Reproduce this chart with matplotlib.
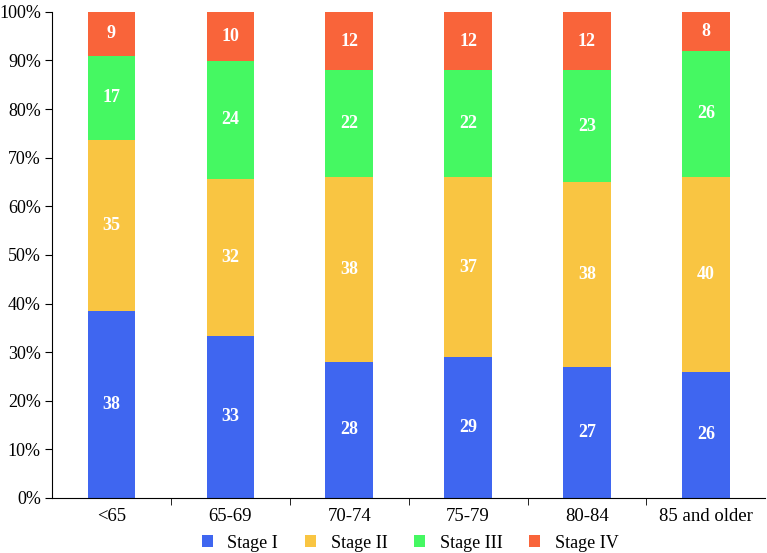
import matplotlib
matplotlib.use("Agg")
import matplotlib.pyplot as plt
import numpy as np
from matplotlib.ticker import FixedLocator, PercentFormatter, NullFormatter

plt.rcParams['font.family'] = ['Liberation Serif', 'DejaVu Serif']

categories = ["<65", "65-69", "70-74", "75-79", "80-84", "85 and older"]
stage_names = ["Stage I", "Stage II", "Stage III", "Stage IV"]
stage1 = [38, 33, 28, 29, 27, 26]
stage2 = [35, 32, 38, 37, 38, 40]
stage3 = [17, 24, 22, 22, 23, 26]
stage4 = [9, 10, 12, 12, 12, 8]
colors = ["#3F66F0", "#F9C542", "#45F862", "#F9643A"]

series = np.array([stage1, stage2, stage3, stage4], dtype=float)
totals = series.sum(axis=0)
shares = series / totals * 100

fig = plt.figure(figsize=(7.67, 5.53), dpi=100)
ax = fig.add_axes([0.0678, 0.0995, 0.930, 0.879])
x = np.arange(len(categories))
bottom = np.zeros(len(categories))
for i, name in enumerate(stage_names):
    bars = ax.bar(x, shares[i], 0.4, bottom=bottom, color=colors[i], label=name, zorder=2)
    for j, b in enumerate(bars):
        ax.text(b.get_x() + b.get_width() / 2, bottom[j] + shares[i][j] / 2,
                f"{int(series[i][j])}", ha="center", va="center", color="white",
                fontsize=13, fontweight="bold")
    bottom += shares[i]

ax.set_xlim(-0.5, len(categories) - 0.5)
ax.set_ylim(0, 100)
ax.yaxis.set_major_locator(FixedLocator(np.arange(0, 101, 10)))
ax.yaxis.set_major_formatter(PercentFormatter(decimals=0))
ax.set_xticks(x)
ax.set_xticklabels(categories)
ax.tick_params(axis="x", which="major", length=0, labelsize=13.5, pad=7)
ax.xaxis.set_minor_locator(FixedLocator(np.arange(0.5, len(categories) - 0.5, 1)))
ax.xaxis.set_minor_formatter(NullFormatter())
ax.tick_params(axis="x", which="minor", length=5, direction="out")
ax.tick_params(axis="y", labelsize=13, length=5, direction="out", pad=3)
for s in ["top", "right"]:
    ax.spines[s].set_visible(False)

fig.legend(*ax.get_legend_handles_labels(), loc="center", bbox_to_anchor=(0.535, 0.018),
           ncol=4, frameon=False, fontsize=13, handlelength=0.6, handleheight=0.6,
           columnspacing=1.5, handletextpad=0.8, borderpad=0)

fig.savefig("out.png", dpi=100)
